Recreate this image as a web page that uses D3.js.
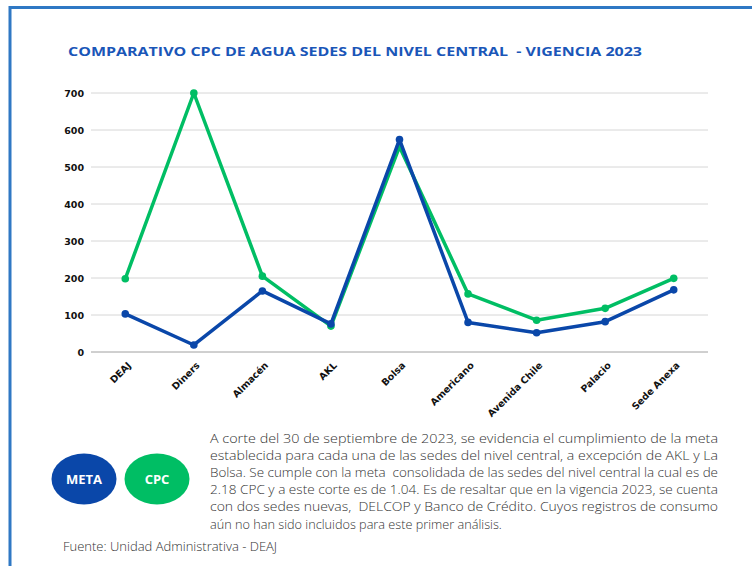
<!DOCTYPE html>
<html><head><meta charset="utf-8">
<script src="https://cdn.jsdelivr.net/npm/d3@7"></script>
<style>html,body{margin:0;padding:0;background:#fff;}svg{display:block;}</style>
</head><body>
<script>
const categories = ["DEAJ","Diners","Almacén","AKL","Bolsa","Americano","Avenida Chile","Palacio","Sede Anexa"];
const metaValues = [103, 19, 165, 76, 574, 80, 52, 82, 168];
const cpcValues  = [198, 700, 205, 70, 555, 157, 86, 118, 199];
const yTicks = [0,100,200,300,400,500,600,700];
const titleText = "COMPARATIVO CPC DE AGUA SEDES DEL NIVEL CENTRAL  - VIGENCIA 2023";
const legendLabels = ["META","CPC"];
const paragraph = [
  "A corte del 30 de septiembre de 2023, se evidencia el cumplimiento de la meta",
  "establecida para cada una de las sedes del nivel central, a excepción de AKL y La",
  "Bolsa. Se cumple con la meta  consolidada de las sedes del nivel central la cual es de",
  "2.18 CPC y a este corte es de 1.04. Es de resaltar que en la vigencia 2023, se cuenta",
  "con dos sedes nuevas,  DELCOP y Banco de Crédito. Cuyos registros de consumo",
  "aún no han sido incluidos para este primer análisis."
];
const sourceText = "Fuente: Unidad Administrativa - DEAJ";

const W = 752, H = 566;
const blue = "#0a47a9", green = "#00be64";
const svg = d3.select("body").append("svg").attr("width", W).attr("height", H);

// frame
svg.append("path").attr("d", `M10,${H} L10,7.5 L${W},7.5`).attr("fill","none")
  .attr("stroke","#2f78c4").attr("stroke-width",3);

// title
svg.append("text").attr("x",68).attr("y",56).attr("fill","#1a56b8")
  .attr("font-family","'Open Sans', sans-serif").attr("font-weight","bold")
  .attr("font-size",13).attr("textLength",574).attr("lengthAdjust","spacingAndGlyphs")
  .style("white-space","pre").text(titleText);

const x = d3.scalePoint().domain(categories).range([91,708]).padding(0.5);
const y = d3.scaleLinear().domain([0,700]).range([352,93]);

// gridlines
svg.append("g").selectAll("line").data(yTicks).join("line")
  .attr("x1",91).attr("x2",708).attr("y1",d=>y(d)).attr("y2",d=>y(d))
  .attr("stroke",d=>d===0?"#a0a0a0":"#d6d6d6").attr("stroke-width",1);

// y axis
const yAxis = svg.append("g").attr("transform","translate(84,0)")
  .call(d3.axisLeft(y).tickValues(yTicks).tickSize(0).tickPadding(0));
yAxis.select(".domain").remove();
yAxis.selectAll("text").attr("font-family","'DejaVu Sans', sans-serif").attr("font-weight","bold")
  .attr("font-size",9.5).attr("fill","#111");

// x axis
const xAxis = svg.append("g").attr("transform","translate(0,352)")
  .call(d3.axisBottom(x).tickSize(0).tickPadding(0));
xAxis.select(".domain").remove();
xAxis.selectAll("text").attr("font-family","'DejaVu Sans', sans-serif").attr("font-weight","bold")
  .attr("font-size",9.5).attr("fill","#111")
  .attr("text-anchor","end").attr("dy",0)
  .attr("transform","translate(6,14) rotate(-45)");

// lines
const line = d3.line().x((d,i)=>x(categories[i])).y(d=>y(d));
function series(vals,color){
  svg.append("path").datum(vals).attr("d",line).attr("fill","none")
    .attr("stroke",color).attr("stroke-width",3.5).attr("stroke-linejoin","round");
  svg.append("g").selectAll("circle").data(vals).join("circle")
    .attr("cx",(d,i)=>x(categories[i])).attr("cy",d=>y(d)).attr("r",3.8).attr("fill",color);
}
series(cpcValues, green);
series(metaValues, blue);

// legend ellipses
const leg = [{label:legendLabels[0],color:blue,cx:84},{label:legendLabels[1],color:green,cx:157}];
const lg = svg.append("g").selectAll("g").data(leg).join("g");
lg.append("ellipse").attr("cx",d=>d.cx).attr("cy",479).attr("rx",32.5).attr("ry",25.5).attr("fill",d=>d.color);
lg.append("text").attr("x",d=>d.cx).attr("y",484).attr("text-anchor","middle").attr("fill","#fff")
  .attr("font-family","'Open Sans', sans-serif").attr("font-weight","bold").attr("font-size",13).text(d=>d.label);

// paragraph
svg.append("g").selectAll("text").data(paragraph).join("text")
  .attr("x",210).attr("y",(d,i)=>443+i*17.1)
  .attr("font-family","'Open Sans', sans-serif").attr("font-weight",300).attr("font-size",12.7).attr("fill","#333")
  .style("white-space","pre")
  .each(function(d,i){ if(i<paragraph.length-1) d3.select(this).attr("textLength",508).attr("lengthAdjust","spacingAndGlyphs"); })
  .text(d=>d);

svg.append("text").attr("x",63).attr("y",551).attr("font-family","'Open Sans', sans-serif").attr("font-weight",300)
  .attr("font-size",13).attr("fill","#333").text(sourceText);
</script>
</body></html>
